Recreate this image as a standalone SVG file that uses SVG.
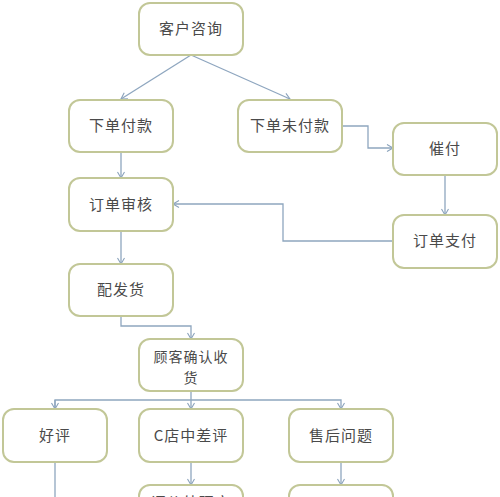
<svg xmlns="http://www.w3.org/2000/svg" width="500" height="497" viewBox="0 0 500 497">
<defs>
<marker id="arr" markerWidth="10" markerHeight="10" refX="8" refY="5" orient="auto" markerUnits="userSpaceOnUse">
<path d="M2,1.5 L8,5 L2,8.5" fill="none" stroke="#8aa2bb" stroke-width="1.1"/>
</marker>
</defs>
<style>
.box{fill:#fff;stroke:#c2c797;stroke-width:2}
.t{font-family:"Noto Sans CJK SC","Noto Sans CJK TC",sans-serif;font-size:15px;fill:#4a4a4a;text-anchor:middle;letter-spacing:1px}
.c{fill:none;stroke:#8ea6bf;stroke-width:1.3}
</style>
<rect width="500" height="497" fill="#fff"/>
<g id="connectors">
<path class="c" d="M191,55 L121,99" marker-end="url(#arr)"/>
<path class="c" d="M191,55 L290,99" marker-end="url(#arr)"/>
<path class="c" d="M121,152 L121,178" marker-end="url(#arr)"/>
<path class="c" d="M342,126 L368,126 L368,148 L393,148" marker-end="url(#arr)"/>
<path class="c" d="M445,175 L445,215" marker-end="url(#arr)"/>
<path class="c" d="M393,241 L283,241 L283,204 L173,204" marker-end="url(#arr)"/>
<path class="c" d="M121,231 L121,264" marker-end="url(#arr)"/>
<path class="c" d="M121,316 L121,326 L191,326 L191,339" marker-end="url(#arr)"/>
<path class="c" d="M191,391 L191,409" marker-end="url(#arr)"/>
<path class="c" d="M55,409 L55,400 L341,400 L341,409" marker-end="url(#arr)"/>
<path class="c" d="M55,400 L55,409" marker-end="url(#arr)"/>
<path class="c" d="M191,462 L191,485" marker-end="url(#arr)"/>
<path class="c" d="M341,462 L341,485" marker-end="url(#arr)"/>
<path class="c" d="M55,462 L55,497"/>
</g>
<g id="n1"><rect class="box" x="139" y="3" width="104" height="52" rx="11"/><text class="t" x="191" y="34">客户咨询</text></g>
<g id="n2"><rect class="box" x="69" y="100" width="104" height="52" rx="11"/><text class="t" x="121" y="131">下单付款</text></g>
<g id="n3"><rect class="box" x="238" y="100" width="104" height="52" rx="11"/><text class="t" x="290" y="131">下单未付款</text></g>
<g id="n4"><rect class="box" x="393" y="123" width="104" height="52" rx="11"/><text class="t" x="445" y="154">催付</text></g>
<g id="n5"><rect class="box" x="69" y="178" width="104" height="53" rx="11"/><text class="t" x="121" y="210">订单审核</text></g>
<g id="n6"><rect class="box" x="393" y="215" width="104" height="53" rx="11"/><text class="t" x="445" y="246">订单支付</text></g>
<g id="n7"><rect class="box" x="69" y="264" width="104" height="52" rx="11"/><text class="t" x="121" y="295">配发货</text></g>
<g id="n8"><rect class="box" x="139" y="339" width="104" height="52" rx="11"/><text class="t" x="191" y="362" style="font-size:14px">顾客确认收</text><text class="t" x="191" y="383" style="font-size:14px">货</text></g>
<g id="n9"><rect class="box" x="3" y="409" width="104" height="53" rx="11"/><text class="t" x="55" y="441">好评</text></g>
<g id="n10"><rect class="box" x="139" y="409" width="104" height="53" rx="11"/><text class="t" x="191" y="441">C店中差评</text></g>
<g id="n11"><rect class="box" x="289" y="409" width="104" height="53" rx="11"/><text class="t" x="341" y="441">售后问题</text></g>
<g id="n12"><rect class="box" x="139" y="485" width="104" height="40" rx="11"/><text class="t" x="191" y="508">评价处理客</text></g>
<g id="n13"><rect class="box" x="289" y="485" width="104" height="40" rx="11"/></g>
</svg>
